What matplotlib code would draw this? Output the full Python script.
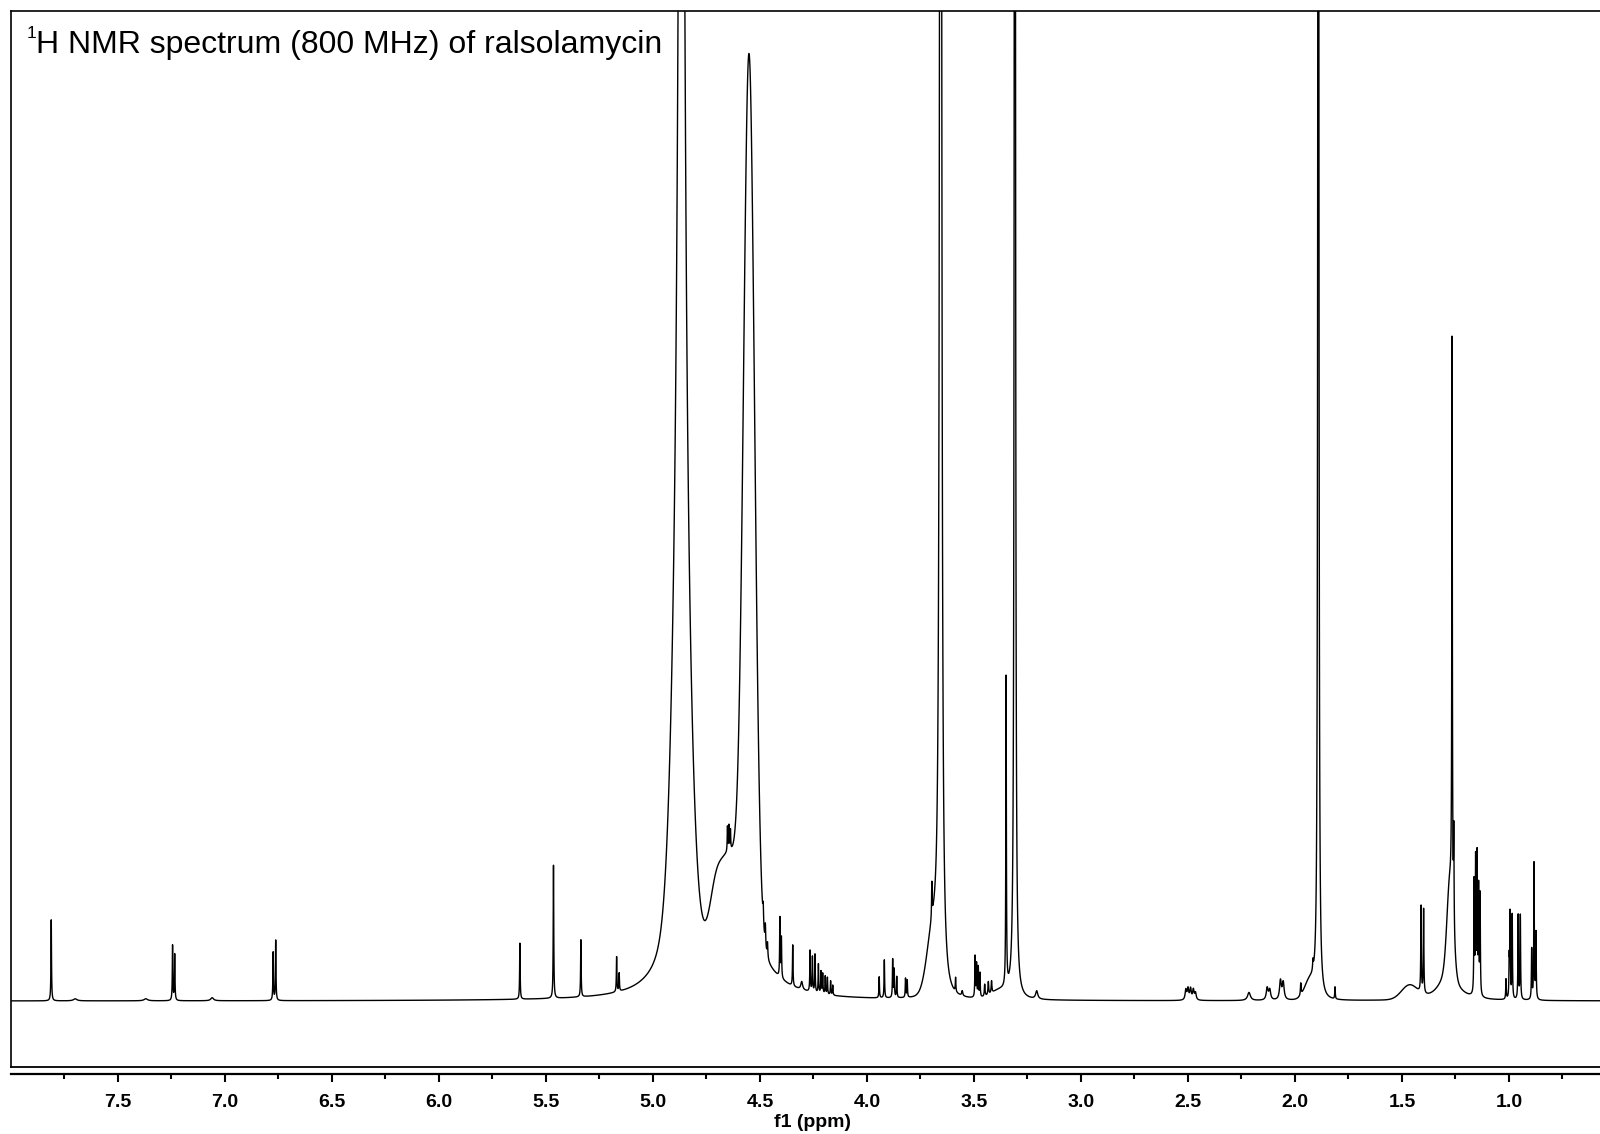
import numpy as np
import matplotlib.pyplot as plt
from matplotlib.ticker import FixedLocator, FormatStrFormatter
from matplotlib.lines import Line2D

plt.rcParams.update({
    'font.family': ['Liberation Sans', 'DejaVu Sans'],
    'font.weight': 'bold',
    'path.simplify': False,
})

# Lorentzian lines: shift (ppm), height (above baseline), half width (ppm)
line_shift = [7.812, 7.700, 7.370, 7.245, 7.235, 7.060, 6.775, 6.763,
              5.622, 5.465, 5.337, 5.170, 5.158,
              4.867, 4.867,
              4.551, 4.652, 4.645, 4.638, 4.485, 4.475, 4.465,
              4.407, 4.400, 4.347, 4.305, 4.266, 4.255, 4.243, 4.227, 4.215,
              4.207, 4.195, 4.185, 4.170, 4.160,
              3.943, 3.919, 3.880, 3.873, 3.861, 3.820, 3.812,
              3.697, 3.656, 3.586, 3.555, 3.495, 3.488, 3.480, 3.472,
              3.450, 3.433, 3.418, 3.350, 3.309, 3.207,
              2.510, 2.500, 2.488, 2.475, 2.465, 2.215, 2.130, 2.118, 2.068, 2.055,
              1.973, 1.916, 1.891, 1.813,
              1.411, 1.399, 1.284, 1.266, 1.258,
              1.163, 1.156, 1.149, 1.142, 1.135,
              1.014, 0.999, 0.995, 0.985, 0.957, 0.947, 0.894, 0.883, 0.874]
line_height = [81, 2, 2, 55, 46, 3, 48, 60,
               56, 133, 57, 35, 18,
               1500, 60,
               60, 25, 25, 20, 18, 22, 15,
               59, 40, 41, 8, 41, 35, 38, 29, 22,
               20, 18, 17, 14, 10,
               21, 38, 38, 28, 21, 19, 17,
               35, 3000, 14, 5, 41, 33, 30, 24,
               12, 13, 12, 310, 3000, 8,
               10, 11, 11, 10, 7, 8, 12, 10, 19, 17,
               12, 10, 3000, 12,
               86, 84, 30, 562, 95,
               112, 133, 137, 105, 100,
               20, 38, 84, 84, 84, 84, 50, 136, 66]
line_hwhm = [0.0015, 0.010, 0.010, 0.0015, 0.0015, 0.008, 0.0015, 0.0015,
             0.0015, 0.0015, 0.0015, 0.0015, 0.0015,
             0.014, 0.084,
             0.103, 0.0015, 0.0015, 0.0015, 0.002, 0.002, 0.002,
             0.0015, 0.0015, 0.0015, 0.005, 0.0015, 0.0015, 0.0015, 0.0015, 0.0015,
             0.0015, 0.0015, 0.0015, 0.0015, 0.0015,
             0.0015, 0.0015, 0.0015, 0.0015, 0.0015, 0.0015, 0.0015,
             0.0015, 0.0037, 0.0015, 0.003, 0.0015, 0.0015, 0.0015, 0.0015,
             0.002, 0.002, 0.002, 0.0015, 0.0022, 0.006,
             0.004, 0.004, 0.004, 0.004, 0.004, 0.008, 0.005, 0.005, 0.005, 0.005,
             0.002, 0.002, 0.0019, 0.0015,
             0.0015, 0.0015, 0.047, 0.0015, 0.0015,
             0.0015, 0.0015, 0.0015, 0.0015, 0.0015,
             0.0015, 0.0015, 0.0015, 0.0015, 0.0015, 0.0015, 0.0015, 0.0015, 0.0015]

# broad Gaussian humps under the big signals
hump_shift = [4.867, 4.551, 4.645, 4.710, 3.692, 3.380, 1.930, 1.465, 1.275]
hump_height = [307, 862, 100, 38, 60, 8, 18, 14, 90]
hump_sigma = [0.0374, 0.0257, 0.051, 0.028, 0.028, 0.040, 0.025, 0.037, 0.014]

major_ticks = [7.5, 7.0, 6.5, 6.0, 5.5, 5.0, 4.5, 4.0, 3.5, 3.0, 2.5, 2.0, 1.5, 1.0]
minor_ticks = [7.75, 7.25, 6.75, 6.25, 5.75, 5.25, 4.75, 4.25, 3.75, 3.25, 2.75, 2.25, 1.75, 1.25, 0.75]

ppm = np.linspace(8.0, 0.5, 30001)
spec = np.zeros_like(ppm)
for c, h, w in zip(line_shift, line_height, line_hwhm):
    spec += h / (1 + ((ppm - c) / w) ** 2)
for c, h, s in zip(hump_shift, hump_height, hump_sigma):
    spec += h * np.exp(-0.5 * ((ppm - c) / s) ** 2)

W, H = 1600, 1134
fig = plt.figure(figsize=(W / 100, H / 100), dpi=100)
ax = fig.add_axes([11 / W, 1 - 1067 / H, 1602 / W, (1067 - 10.7) / H])

ax.plot(ppm, spec, color='black', lw=1.0)
ax.set_xlim(8.0, 0.514)
ax.set_ylim(-66, 990.3)

# frame box plus the separate axis line underneath
ax.spines['right'].set_visible(False)
ax.spines['top'].set_linewidth(1.2)
ax.spines['left'].set_linewidth(1.2)
ax.spines['bottom'].set_position(('outward', 4.7))
ax.spines['bottom'].set_linewidth(1.6)
ax.add_line(Line2D([0, 1], [0, 0], transform=ax.transAxes, color='black',
                   lw=1.3, clip_on=False))

ax.set_yticks([])
ax.xaxis.set_major_locator(FixedLocator(major_ticks))
ax.xaxis.set_minor_locator(FixedLocator(minor_ticks))
ax.xaxis.set_major_formatter(FormatStrFormatter('%.1f'))
ax.tick_params(axis='x', which='major', direction='out', length=6, width=1.5,
               pad=9, labelsize=14)
ax.tick_params(axis='x', which='minor', direction='out', length=3.5, width=1.5)
ax.set_xlabel('f1 (ppm)', fontsize=14, fontweight='bold', labelpad=2)

fig.text(27 / W, 1 - 38.5 / H, '1', fontsize=12.5, fontweight='normal', va='baseline')
fig.text(36 / W, 1 - 52.5 / H, 'H NMR spectrum (800 MHz) of ralsolamycin',
         fontsize=23, fontweight='normal', va='baseline')

fig.savefig('out.png', dpi=100)
